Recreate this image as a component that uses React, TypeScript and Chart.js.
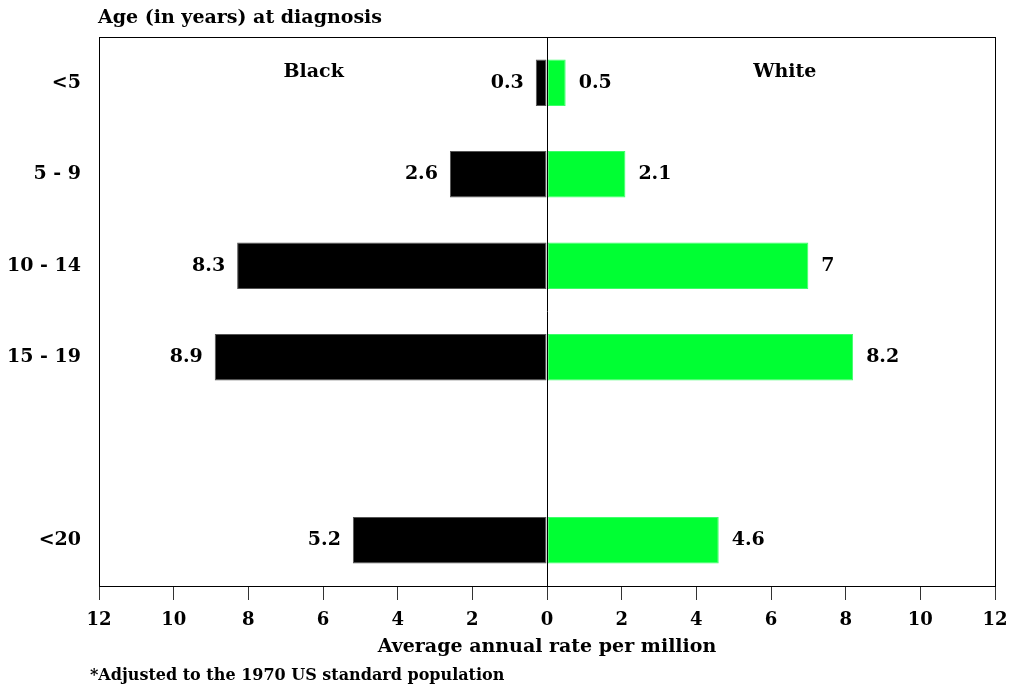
import React, { useEffect, useRef } from "react";
import { Chart, registerables } from "chart.js";

Chart.register(...registerables);

const categories = ["<5", "5 - 9", "10 - 14", "15 - 19", "", "<20"];
const blackRates: (number | null)[] = [0.3, 2.6, 8.3, 8.9, null, 5.2];
const whiteRates: (number | null)[] = [0.5, 2.1, 7, 8.2, null, 4.6];
const xTicks = [-12, -10, -8, -6, -4, -2, 0, 2, 4, 6, 8, 10, 12];

const FONT = "'DejaVu Serif', serif";
const FS = 19;

export default function App() {
  const ref = useRef<HTMLCanvasElement | null>(null);

  useEffect(() => {
    if (!ref.current) return;

    const textPlugin = {
      id: "texts",
      afterDatasetsDraw(chart: any) {
        const ctx = chart.ctx;
        const area = chart.chartArea;
        const xs = chart.scales.x;
        ctx.save();
        // frame
        ctx.strokeStyle = "#000";
        ctx.lineWidth = 1;
        ctx.strokeRect(Math.round(area.left) + 0.5, Math.round(area.top) + 0.5, Math.round(area.right - area.left), Math.round(area.bottom - area.top));
        // zero line
        const x0 = Math.round(xs.getPixelForValue(0)) + 0.5;
        ctx.beginPath();
        ctx.moveTo(x0, area.top);
        ctx.lineTo(x0, area.bottom);
        ctx.stroke();

        ctx.fillStyle = "#000";
        ctx.font = `bold ${FS}px ${FONT}`;
        ctx.textBaseline = "middle";
        // value labels
        const m0 = chart.getDatasetMeta(0);
        const m1 = chart.getDatasetMeta(1);
        blackRates.forEach((v, i) => {
          if (v == null) return;
          const el = m0.data[i];
          ctx.textAlign = "right";
          ctx.fillText(String(v), el.x - 12, el.y);
        });
        whiteRates.forEach((v, i) => {
          if (v == null) return;
          const el = m1.data[i];
          ctx.textAlign = "left";
          ctx.fillText(String(v), el.x + 13, el.y);
        });
        // series names
        ctx.textAlign = "center";
        ctx.fillText("Black", xs.getPixelForValue(-6.25), area.top + 35);
        ctx.fillText("White", xs.getPixelForValue(6.37), area.top + 35);
        // y title
        ctx.textAlign = "left";
        ctx.fillText("Age (in years) at diagnosis", 98, 18);
        // x title
        ctx.textAlign = "center";
        ctx.fillText("Average annual rate per million", xs.getPixelForValue(0), 647);
        // footnote
        ctx.textAlign = "left";
        ctx.font = `bold 16px ${FONT}`;
        ctx.fillText("*Adjusted to the 1970 US standard population", 90, 676);
        ctx.restore();
      },
    };

    const chart = new Chart(ref.current, {
      type: "bar",
      data: {
        labels: categories,
        datasets: [
          {
            label: "Black",
            data: blackRates.map((v) => (v == null ? null : -v)),
            backgroundColor: "#000000",
            borderColor: "#555555",
            borderWidth: 1,
            borderSkipped: false,
          },
          {
            label: "White",
            data: whiteRates,
            backgroundColor: "#00ff33",
            borderColor: "#3dff6a",
            borderWidth: 1,
            borderSkipped: false,
          },
        ],
      },
      options: {
        indexAxis: "y",
        responsive: false,
        animation: false,
        events: [],
        categoryPercentage: 0.51,
        barPercentage: 1,
        layout: { padding: { left: 0, right: 16, top: 37, bottom: 0 } },
        plugins: {
          legend: { display: false },
          tooltip: { enabled: false },
          title: { display: false },
        },
        scales: {
          x: {
            type: "linear",
            min: -12,
            max: 12,
            stacked: true,
            afterBuildTicks: (s: any) => {
              s.ticks = xTicks.map((v) => ({ value: v }));
            },
            afterFit: (s: any) => {
              s.height = 104;
              s.paddingLeft = 0;
              s.paddingRight = 0;
            },
            grid: {
              display: true,
              drawOnChartArea: false,
              drawTicks: true,
              tickLength: 14,
              tickColor: "#333",
            },
            border: { display: false },
            ticks: {
              color: "#000",
              font: { family: FONT, size: 18, weight: "bold" },
              padding: 10,
              maxRotation: 0,
              autoSkip: false,
              callback: (v: any) => String(Math.abs(Number(v))),
            },
          },
          y: {
            stacked: true,
            afterFit: (s: any) => {
              s.width = 99;
            },
            grid: { display: false, drawTicks: false },
            border: { display: false },
            ticks: {
              color: "#000",
              font: { family: FONT, size: FS, weight: "bold" },
              padding: 18,
              autoSkip: false,
            },
          },
        },
      },
      plugins: [textPlugin],
    } as any);

    return () => chart.destroy();
  }, []);

  return (
    <div style={{ position: "absolute", left: 0, top: 0, width: 1011, height: 690, background: "#fff" }}>
      <canvas ref={ref} width={1011} height={690} style={{ display: "block" }} />
    </div>
  );
}
